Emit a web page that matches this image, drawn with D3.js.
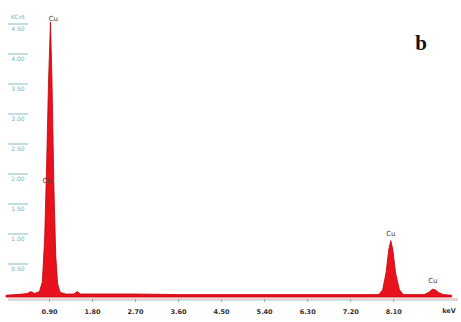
<!DOCTYPE html>
<html>
<head>
<meta charset="utf-8">
<script src="https://cdn.jsdelivr.net/npm/d3@7"></script>
<style>
  html, body { margin: 0; padding: 0; background: #fff; }
  svg { display: block; }
</style>
</head>
<body>
<svg id="chart" width="461" height="322"></svg>
<script>
// EDX spectrum: energy (keV) and counts (KCnt)
const energyKeV = [0.00, 0.20, 0.35, 0.45, 0.52, 0.60, 0.70, 0.76, 0.81, 0.85, 0.89, 0.93, 0.96, 1.00, 1.04, 1.08, 1.13, 1.25,
  1.42, 1.49, 1.56, 1.80, 2.70, 3.60, 4.50, 5.40, 6.30, 7.20, 7.80,
  7.88, 7.95, 8.01, 8.05, 8.09, 8.15, 8.23, 8.31,
  8.75, 8.85, 8.92, 8.98, 9.06, 9.15, 9.32];
const countsK = [0.03, 0.04, 0.05, 0.06, 0.09, 0.06, 0.09, 0.25, 1.00, 2.20, 3.60, 4.58, 3.70, 1.90, 0.70, 0.22, 0.08, 0.05,
  0.05, 0.09, 0.05, 0.05, 0.05, 0.04, 0.04, 0.04, 0.04, 0.04, 0.04,
  0.12, 0.40, 0.80, 0.94, 0.80, 0.40, 0.12, 0.04,
  0.04, 0.08, 0.13, 0.12, 0.07, 0.04, 0.03];

// axis ticks
const xTicks = [0.90, 1.80, 2.70, 3.60, 4.50, 5.40, 6.30, 7.20, 8.10];
const xTickLabels = ["0.90", "1.80", "2.70", "3.60", "4.50", "5.40", "6.30", "7.20", "8.10"];
const yTicks = [0.5, 1.0, 1.5, 2.0, 2.5, 3.0, 3.5, 4.0, 4.5];
const yTickLabels = ["0.50", "1.00", "1.50", "2.00", "2.50", "3.00", "3.50", "4.00", "4.50"];

// peak labels
const peakNames = ["Cu", "Cu", "Cu", "Cu"];
const peakEnergy = [0.99, 0.86, 8.05, 8.93];
const peakLabelCounts = [4.60, 1.90, 1.02, 0.24];

const panelLabel = "b";

const svg = d3.select("#chart");

const x = d3.scaleLinear().domain([0, 9.32]).range([6, 451.5]);
const y = d3.scaleLinear().domain([0, 4.5]).range([297, 27]);

const pts = energyKeV.map((e, i) => ({ e, c: countsK[i] }));

// y-axis labels (teal, left side)
const yg = svg.append("g");
yTicks.forEach((t, i) => {
  const yy = y(t);
  yg.append("line")
    .attr("x1", 8).attr("x2", 28)
    .attr("y1", yy - 3).attr("y2", yy - 3)
    .attr("stroke", "#9cc6c6").attr("stroke-width", 1.2);
  yg.append("text")
    .attr("x", 18).attr("y", yy + 4)
    .attr("text-anchor", "middle")
    .attr("font-family", "DejaVu Sans, sans-serif")
    .attr("font-size", 6)
    .attr("fill", "#7fb0b0")
    .text(yTickLabels[i]);
});
yg.append("text")
  .attr("x", 18).attr("y", 19)
  .attr("text-anchor", "middle")
  .attr("font-family", "DejaVu Sans, sans-serif")
  .attr("font-size", 6)
  .attr("fill", "#7fb0b0")
  .text("KCnt");

// x axis line and ticks
const axisY = 299;
svg.append("line")
  .attr("x1", 8).attr("x2", 458)
  .attr("y1", axisY).attr("y2", axisY)
  .attr("stroke", "#e4a0a0").attr("stroke-width", 1);
svg.append("line")
  .attr("x1", 8).attr("x2", 458)
  .attr("y1", axisY + 1.5).attr("y2", axisY + 1.5)
  .attr("stroke", "#bcdada").attr("stroke-width", 0.8);

const xAxis = d3.axisBottom(x)
  .tickValues(xTicks)
  .tickFormat((d, i) => xTickLabels[i])
  .tickSize(3)
  .tickPadding(7);
const xg = svg.append("g")
  .attr("transform", `translate(0,${axisY})`)
  .call(xAxis);
xg.select(".domain").remove();
xg.selectAll(".tick line").attr("stroke", "#8a9a9a").attr("stroke-width", 0.8);
xg.selectAll(".tick text")
  .attr("font-family", "DejaVu Sans, sans-serif")
  .attr("font-size", 6.5)
  .attr("font-weight", "bold")
  .attr("fill", "#333");

svg.append("text")
  .attr("x", 449).attr("y", axisY + 14)
  .attr("text-anchor", "middle")
  .attr("font-family", "DejaVu Sans, sans-serif")
  .attr("font-size", 6.5)
  .attr("font-weight", "bold")
  .attr("fill", "#333")
  .text("keV");

// spectrum
const area = d3.area()
  .x(d => x(d.e))
  .y0(y(0))
  .y1(d => y(d.c));
svg.append("path")
  .datum(pts)
  .attr("d", area)
  .attr("fill", "#e8121c")
  .attr("stroke", "#c0000c")
  .attr("stroke-width", 0.8)
  .attr("stroke-linejoin", "round");

// peak labels
peakNames.forEach((n, i) => {
  svg.append("text")
    .attr("x", x(peakEnergy[i]))
    .attr("y", y(peakLabelCounts[i]))
    .attr("text-anchor", "middle")
    .attr("font-family", "DejaVu Sans, sans-serif")
    .attr("font-size", 7)
    .attr("fill", "#444")
    .text(n);
});

// panel letter
svg.append("text")
  .attr("x", 421).attr("y", 50)
  .attr("text-anchor", "middle")
  .attr("font-family", "Liberation Serif, Times New Roman, serif")
  .attr("font-size", 21)
  .attr("font-weight", "bold")
  .attr("fill", "#111")
  .text(panelLabel);
</script>
</body>
</html>
